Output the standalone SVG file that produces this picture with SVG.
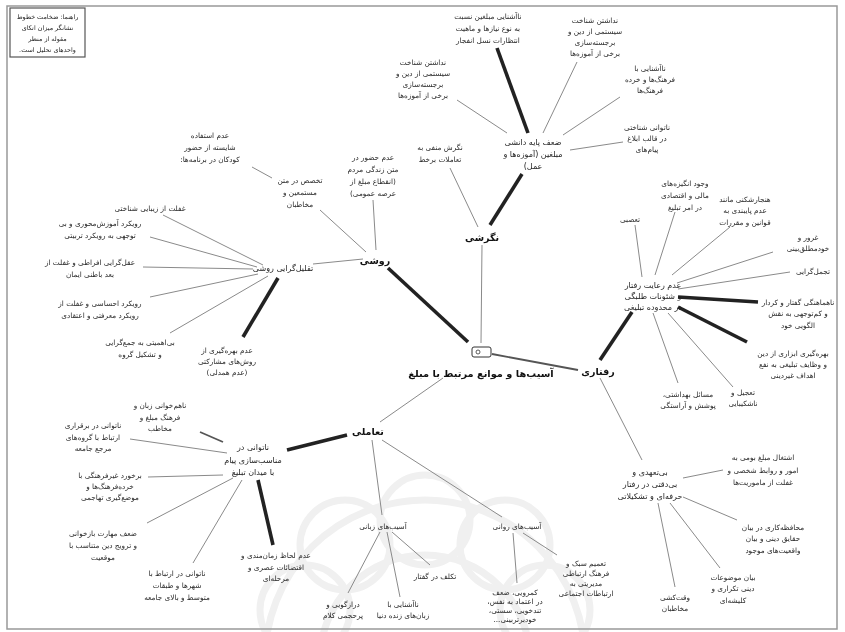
<svg xmlns="http://www.w3.org/2000/svg" width="845" height="632" viewBox="0 0 845 632">
<style>
.t{font-family:"DejaVu Sans","Noto Sans",sans-serif;font-size:7.3px;fill:#2a2a2a;text-anchor:middle;direction:rtl;unicode-bidi:embed}
.s{font-size:8px;fill:#1e1e1e}
.b{font-size:9.5px;font-weight:bold;fill:#111}
.ti{font-size:9.8px;font-weight:bold;fill:#111}
.lg{font-size:6.4px;fill:#222}
.c1{stroke:#8a8a8a;stroke-width:1;fill:none}
.c2{stroke:#555;stroke-width:1.8;fill:none}
.c3{stroke:#222;stroke-width:3.6;fill:none}
.wm{fill:none;stroke:#f0f0f0;stroke-width:7}
</style>
<defs>
<filter id="gray" x="0" y="0" width="845" height="632" filterUnits="userSpaceOnUse">
<feColorMatrix type="saturate" values="0"/>
</filter>
</defs>
<rect x="0" y="0" width="845" height="632" fill="#fff"/>
<g id="watermark">
<circle class="wm" cx="425" cy="660" r="160"/>
<circle class="wm" cx="425" cy="660" r="105"/>
<circle class="wm" cx="305" cy="610" r="45"/>
<circle class="wm" cx="345" cy="545" r="45"/>
<circle class="wm" cx="425" cy="520" r="45"/>
<circle class="wm" cx="505" cy="545" r="45"/>
<circle class="wm" cx="545" cy="610" r="45"/>
</g>
<rect x="7" y="6" width="830" height="623" fill="none" stroke="#999" stroke-width="1.5"/>
<g id="connectors">
<line class="c3" x1="388" y1="268" x2="468" y2="342"/>
<line class="c1" x1="482" y1="245" x2="481" y2="343"/>
<line class="c2" x1="492" y1="354" x2="578" y2="370"/>
<line class="c1" x1="443" y1="378" x2="380" y2="422"/>
<line class="c3" x1="490" y1="225" x2="522" y2="174"/>
<line class="c1" x1="478" y1="227" x2="450" y2="168"/>
<line class="c3" x1="528" y1="133" x2="497" y2="48"/>
<line class="c1" x1="507" y1="133" x2="457" y2="100"/>
<line class="c1" x1="543" y1="133" x2="577" y2="62"/>
<line class="c1" x1="563" y1="135" x2="620" y2="97"/>
<line class="c1" x1="570" y1="150" x2="623" y2="142"/>
<line class="c1" x1="376" y1="250" x2="373" y2="200"/>
<line class="c1" x1="366" y1="252" x2="320" y2="210"/>
<line class="c1" x1="272" y1="178" x2="252" y2="167"/>
<line class="c1" x1="363" y1="259" x2="313" y2="264"/>
<line class="c1" x1="263" y1="265" x2="163" y2="215"/>
<line class="c1" x1="257" y1="267" x2="150" y2="237"/>
<line class="c1" x1="253" y1="269" x2="143" y2="267"/>
<line class="c1" x1="258" y1="274" x2="150" y2="297"/>
<line class="c1" x1="268" y1="276" x2="170" y2="333"/>
<line class="c3" x1="278" y1="278" x2="243" y2="337"/>
<line class="c3" x1="600" y1="360" x2="632" y2="312"/>
<line class="c1" x1="600" y1="378" x2="642" y2="460"/>
<line class="c1" x1="642" y1="277" x2="635" y2="225"/>
<line class="c1" x1="655" y1="275" x2="675" y2="212"/>
<line class="c1" x1="672" y1="275" x2="730" y2="227"/>
<line class="c1" x1="677" y1="283" x2="773" y2="252"/>
<line class="c1" x1="678" y1="289" x2="790" y2="272"/>
<line class="c3" x1="678" y1="297" x2="758" y2="302"/>
<line class="c3" x1="678" y1="307" x2="747" y2="342"/>
<line class="c1" x1="668" y1="313" x2="733" y2="387"/>
<line class="c1" x1="653" y1="313" x2="678" y2="383"/>
<line class="c1" x1="683" y1="478" x2="723" y2="470"/>
<line class="c1" x1="683" y1="497" x2="737" y2="520"/>
<line class="c1" x1="670" y1="503" x2="720" y2="568"/>
<line class="c1" x1="658" y1="503" x2="675" y2="587"/>
<line class="c3" x1="347" y1="435" x2="287" y2="450"/>
<line class="c1" x1="372" y1="440" x2="382" y2="515"/>
<line class="c1" x1="382" y1="440" x2="502" y2="517"/>
<line class="c2" x1="200" y1="432" x2="223" y2="442"/>
<line class="c1" x1="130" y1="439" x2="227" y2="453"/>
<line class="c1" x1="148" y1="477" x2="223" y2="475"/>
<line class="c1" x1="147" y1="523" x2="233" y2="478"/>
<line class="c1" x1="193" y1="563" x2="242" y2="480"/>
<line class="c3" x1="258" y1="480" x2="273" y2="545"/>
<line class="c1" x1="380" y1="532" x2="348" y2="593"/>
<line class="c1" x1="387" y1="532" x2="400" y2="597"/>
<line class="c1" x1="392" y1="532" x2="430" y2="565"/>
<line class="c1" x1="513" y1="533" x2="517" y2="583"/>
<line class="c1" x1="523" y1="533" x2="557" y2="555"/>
</g>
<g id="nodes" filter="url(#gray)">
<g id="legend">
<rect x="10" y="8" width="75" height="49" fill="#fff" stroke="#555" stroke-width="1.2"/>
<text class="t lg"><tspan x="47.5" y="19">راهنما: ضخامت خطوط</tspan><tspan x="47.5" y="30">نشانگر میزان اتکای</tspan><tspan x="47.5" y="41">مقوله از منظر</tspan><tspan x="47.5" y="52">واحدهای تحلیل است.</tspan></text>
</g>
<g id="center">
<rect x="472" y="347" width="19" height="10" rx="2" fill="#fff" stroke="#333" stroke-width="1"/>
<circle cx="478" cy="352" r="2" fill="none" stroke="#333" stroke-width="0.8"/>
<text class="t ti" x="481" y="377">آسیب‌ها و موانع مرتبط با مبلغ</text>
</g>
<g id="negareshi"><text class="t b" x="482" y="241">نگرشی</text></g>
<g id="raveshi"><text class="t b" x="375" y="264">روشی</text></g>
<g id="raftari"><text class="t b" x="598" y="375">رفتاری</text></g>
<g id="taamoli"><text class="t b" x="368" y="435">تعاملی</text></g>

<g id="n-top"><text class="t"><tspan x="488" y="19">ناآشنایی مبلغین نسبت</tspan><tspan x="488" y="31">به نوع نیازها و ماهیت</tspan><tspan x="488" y="43">انتظارات نسل انفجار</tspan></text></g>
<g id="n-nadashtan1"><text class="t"><tspan x="423" y="65">نداشتن شناخت</tspan><tspan x="423" y="76">سیستمی از دین و</tspan><tspan x="423" y="87">برجسته‌سازی</tspan><tspan x="423" y="98">برخی از آموزه‌ها</tspan></text></g>
<g id="n-nadashtan2"><text class="t"><tspan x="595" y="23">نداشتن شناخت</tspan><tspan x="595" y="34">سیستمی از دین و</tspan><tspan x="595" y="45">برجسته‌سازی</tspan><tspan x="595" y="56">برخی از آموزه‌ها</tspan></text></g>
<g id="n-farhang"><text class="t"><tspan x="650" y="71">ناآشنایی با</tspan><tspan x="650" y="82">فرهنگ‌ها و خرده</tspan><tspan x="650" y="93">فرهنگ‌ها</tspan></text></g>
<g id="n-shenakhti"><text class="t"><tspan x="647" y="130">ناتوانی شناختی</tspan><tspan x="647" y="141">در قالب ابلاغ</tspan><tspan x="647" y="152">پیام‌های</tspan></text></g>
<g id="n-zaf"><text class="t s"><tspan x="533" y="145">ضعف پایه دانشی</tspan><tspan x="533" y="157">مبلغین (آموزه‌ها و</tspan><tspan x="533" y="169">عمل)</tspan></text></g>
<g id="n-manfi"><text class="t"><tspan x="440" y="150">نگرش منفی به</tspan><tspan x="440" y="162">تعاملات برخط</tspan></text></g>

<g id="n-hozur"><text class="t"><tspan x="373" y="160">عدم حضور در</tspan><tspan x="373" y="172">متن زندگی مردم</tspan><tspan x="373" y="184">(انقطاع مبلغ از</tspan><tspan x="373" y="196">عرصه عمومی)</tspan></text></g>
<g id="n-takhasos"><text class="t"><tspan x="300" y="183">تخصص در متن</tspan><tspan x="300" y="195">مستمعین و</tspan><tspan x="300" y="207">مخاطبان</tspan></text></g>
<g id="n-estefade"><text class="t"><tspan x="210" y="138">عدم استفاده</tspan><tspan x="210" y="150">شایسته از حضور</tspan><tspan x="210" y="162">کودکان در برنامه‌ها:</tspan></text></g>
<g id="n-taghlil"><text class="t s" x="283" y="271">تقلیل‌گرایی روشی</text></g>
<g id="n-ghoflat"><text class="t" x="150" y="211">غفلت از زیبایی شناختی</text></g>
<g id="n-amoozesh"><text class="t"><tspan x="100" y="226">رویکرد آموزش‌محوری و بی</tspan><tspan x="100" y="238">توجهی به رویکرد تربیتی</tspan></text></g>
<g id="n-aghl"><text class="t"><tspan x="90" y="265">عقل‌گرایی افراطی و غفلت از</tspan><tspan x="90" y="277">بعد باطنی ایمان</tspan></text></g>
<g id="n-ehsasi"><text class="t"><tspan x="100" y="306">رویکرد احساسی و غفلت از</tspan><tspan x="100" y="318">رویکرد معرفتی و اعتقادی</tspan></text></g>
<g id="n-jam"><text class="t"><tspan x="140" y="345">بی‌اهمیتی به جمع‌گرایی</tspan><tspan x="140" y="357">و تشکیل گروه</tspan></text></g>
<g id="n-bahre"><text class="t"><tspan x="227" y="353">عدم بهره‌گیری از</tspan><tspan x="227" y="364">روش‌های مشارکتی</tspan><tspan x="227" y="375">(عدم همدلی)</tspan></text></g>

<g id="n-reayat"><text class="t s"><tspan x="653" y="288">عدم رعایت رفتار</tspan><tspan x="653" y="299">و شئونات طلبگی</tspan><tspan x="653" y="310">در محدوده تبلیغی</tspan></text></g>
<g id="n-tasob"><text class="t" x="630" y="222">تعصبی</text></g>
<g id="n-vojud"><text class="t"><tspan x="685" y="186">وجود انگیزه‌های</tspan><tspan x="685" y="198">مالی و اقتصادی</tspan><tspan x="685" y="210">در امر تبلیغ</tspan></text></g>
<g id="n-hanjar"><text class="t"><tspan x="745" y="202">هنجارشکنی مانند</tspan><tspan x="745" y="213">عدم پایبندی به</tspan><tspan x="745" y="225">قوانین و مقررات</tspan></text></g>
<g id="n-ghorur"><text class="t"><tspan x="808" y="240">غرور و</tspan><tspan x="808" y="251">خودمطلق‌بینی</tspan></text></g>
<g id="n-tajammol"><text class="t" x="813" y="274">تجمل‌گرایی</text></g>
<g id="n-nahamahangi"><text class="t"><tspan x="798" y="305">ناهماهنگی گفتار و کردار</tspan><tspan x="798" y="316">و کم‌توجهی به نقش</tspan><tspan x="798" y="328">الگویی خود</tspan></text></g>
<g id="n-abzari"><text class="t"><tspan x="793" y="356">بهره‌گیری ابزاری از دین</tspan><tspan x="793" y="367">و وظایف تبلیغی به نفع</tspan><tspan x="793" y="378">اهداف غیردینی</tspan></text></g>
<g id="n-tajil"><text class="t"><tspan x="743" y="395">تعجیل و</tspan><tspan x="743" y="406">ناشکیبایی</tspan></text></g>
<g id="n-masael"><text class="t"><tspan x="688" y="397">مسائل بهداشتی،</tspan><tspan x="688" y="408">پوشش و آراستگی</tspan></text></g>
<g id="n-taahod"><text class="t s"><tspan x="650" y="475">بی‌تعهدی و</tspan><tspan x="650" y="487">بی‌دقتی در رفتار</tspan><tspan x="650" y="499">حرفه‌ای و تشکیلاتی</tspan></text></g>
<g id="n-eshteghal"><text class="t"><tspan x="763" y="460">اشتغال مبلغ بومی به</tspan><tspan x="763" y="473">امور و روابط شخصی و</tspan><tspan x="763" y="485">غفلت از ماموریت‌ها</tspan></text></g>
<g id="n-mohafeze"><text class="t"><tspan x="773" y="530">محافظه‌کاری در بیان</tspan><tspan x="773" y="541">حقایق دینی و بیان</tspan><tspan x="773" y="553">واقعیت‌های موجود</tspan></text></g>
<g id="n-bayan"><text class="t"><tspan x="733" y="580">بیان موضوعات</tspan><tspan x="733" y="591">دینی تکراری و</tspan><tspan x="733" y="603">کلیشه‌ای</tspan></text></g>
<g id="n-vaght"><text class="t"><tspan x="675" y="600">وقت‌کشی</tspan><tspan x="675" y="611">مخاطبان</tspan></text></g>

<g id="n-monaseb"><text class="t s"><tspan x="253" y="450">ناتوانی در</tspan><tspan x="253" y="463">مناسب‌سازی پیام</tspan><tspan x="253" y="475">با میدان تبلیغ</tspan></text></g>
<g id="n-hamkhani"><text class="t"><tspan x="160" y="408">ناهم‌خوانی زبان و</tspan><tspan x="160" y="420">فرهنگ مبلغ و</tspan><tspan x="160" y="431">مخاطب</tspan></text></g>
<g id="n-barghorari"><text class="t"><tspan x="93" y="428">ناتوانی در برقراری</tspan><tspan x="93" y="440">ارتباط با گروه‌های</tspan><tspan x="93" y="451">مرجع جامعه</tspan></text></g>
<g id="n-barkhord"><text class="t"><tspan x="110" y="478">برخورد غیرفرهنگی با</tspan><tspan x="110" y="489">خرده‌فرهنگ‌ها و</tspan><tspan x="110" y="500">موضع‌گیری تهاجمی</tspan></text></g>
<g id="n-maharat"><text class="t"><tspan x="103" y="536">ضعف مهارت بازخوانی</tspan><tspan x="103" y="548">و ترویج دین متناسب با</tspan><tspan x="103" y="560">موقعیت</tspan></text></g>
<g id="n-shahr"><text class="t"><tspan x="177" y="576">ناتوانی در ارتباط با</tspan><tspan x="177" y="588">شهرها و طبقات</tspan><tspan x="177" y="600">متوسط و بالای جامعه</tspan></text></g>
<g id="n-lahaz"><text class="t"><tspan x="276" y="558">عدم لحاظ زمان‌مندی و</tspan><tspan x="276" y="570">اقتضائات عصری و</tspan><tspan x="276" y="581">مرحله‌ای</tspan></text></g>
<g id="n-zabani"><text class="t" x="383" y="529">آسیب‌های زبانی</text></g>
<g id="n-ravani"><text class="t" x="517" y="529">آسیب‌های روانی</text></g>
<g id="n-takalof"><text class="t" x="435" y="579">تکلف در گفتار</text></g>
<g id="n-deraz"><text class="t"><tspan x="343" y="607">درازگویی و</tspan><tspan x="343" y="618">پرحجمی کلام</tspan></text></g>
<g id="n-zaban"><text class="t"><tspan x="403" y="607">ناآشنایی با</tspan><tspan x="403" y="618">زبان‌های زنده دنیا</tspan></text></g>
<g id="n-kamrooyi"><text class="t"><tspan x="515" y="595">کمرویی، ضعف</tspan><tspan x="515" y="604">در اعتماد به نفس،</tspan><tspan x="515" y="613">تندخویی، سستی،</tspan><tspan x="515" y="622">خودبرتربینی...</tspan></text></g>
<g id="n-tamim"><text class="t"><tspan x="586" y="566">تعمیم سبک و</tspan><tspan x="586" y="576">فرهنگ ارتباطی</tspan><tspan x="586" y="586">مدیریتی به</tspan><tspan x="586" y="596">ارتباطات اجتماعی</tspan></text></g>
</g>
</svg>
